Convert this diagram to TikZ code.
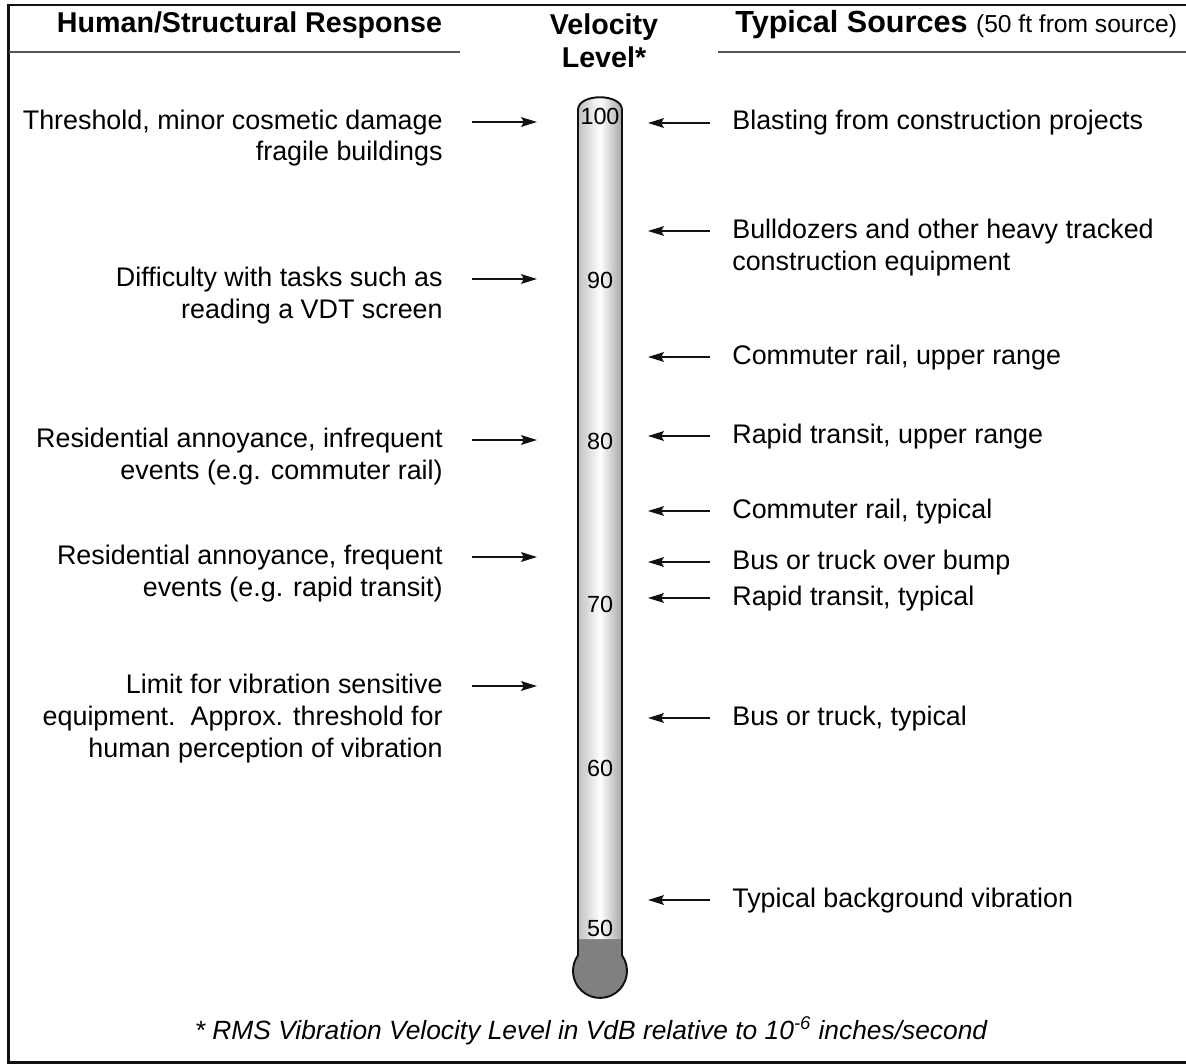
\documentclass[tikz,border=0pt]{standalone}
\usepackage{fontspec}
\setmainfont{Liberation Sans}
\usetikzlibrary{arrows.meta,positioning}
\definecolor{vbink}{HTML}{111111}
\definecolor{vbrule}{HTML}{555555}
\definecolor{vbbulb}{HTML}{808080}

\begin{document}
\begin{tikzpicture}[x=0.02cm,y=0.02cm,
  hdr/.style={font=\bfseries\fontsize{16.3}{19}\selectfont,inner sep=0,anchor=base},
  resp/.style={font=\fontsize{15.3}{18.2}\selectfont,align=right,anchor=base east,inner sep=0},
  src/.style={font=\fontsize{15.3}{18.2}\selectfont,align=left,anchor=base west,inner sep=0},
  tick/.style={font=\fontsize{13.3}{15}\selectfont,anchor=base,inner sep=0},
  arr/.style={-{Stealth[length=9pt,width=5.5pt,inset=1.5pt]},line width=1.1pt,color=vbink},
  rule/.style={line width=1.4pt,color=vbrule}
]
\useasboundingbox (0,0) rectangle (1186,-1064);
% frame
\draw[line width=1.7pt,vbink] (1186,-5) -- (8.5,-5) -- (8.5,-1062.5) -- (1186,-1062.5);

% headings
\node[hdr] (hHuman) at (249.5,-33) {Human/Structural Response};
\node[hdr] (hVel) at (604,-35) {Velocity};
\node[hdr] (hLevel) at (604,-68) {Level*};
\node[hdr,anchor=base west,font=\bfseries\fontsize{17.4}{20}\selectfont] (hSrc) at (735,-33)
  {Typical Sources {\mdseries\fontsize{14}{16}\selectfont (50 ft from source)}};
\draw[rule] (8.5,-52) -- (460,-52);
\draw[rule] (718,-52) -- (1186,-52);

% thermometer
\fill[vbbulb] (578,-939) -- (578,-955.3) arc[start angle=144.6,end angle=395.4,radius=0.54cm] -- (622,-939) -- cycle;
\shade[left color=gray!50,right color=gray!70,middle color=white]
  (578,-939) -- (578,-110) .. controls (578,-93) and (622,-93) .. (622,-110) -- (622,-939) -- cycle;
\draw[line width=1.1pt,vbink] (578,-955.3) -- (578,-110) .. controls (578,-93) and (622,-93) .. (622,-110)
  -- (622,-955.3) arc[start angle=35.4,end angle=-215.4,radius=0.54cm];
\foreach \v/\y in {100/125,90/288,80/449,70/612,60/776,50/936}
  \node[tick] (tk\v) at (600,-\y) {\v};

% human / structural response (base = last line)
\node[resp] (rThr) at (443,-161) {Threshold, minor cosmetic damage\\fragile buildings};
\node[resp] (rVdt) at (443,-318) {Difficulty with tasks such as\\reading a VDT screen};
\node[resp] (rInfreq) at (443,-479) {Residential annoyance, infrequent\\events (e.g. commuter rail)};
\node[resp] (rFreq) at (443,-596) {Residential annoyance, frequent\\events (e.g. rapid transit)};
\node[resp] (rLimit) at (443,-757) {Limit for vibration sensitive\\equipment.\ \ Approx. threshold for\\human perception of vibration};
\foreach \n/\k in {rThr/1,rVdt/1,rInfreq/1,rFreq/1,rLimit/2}
  \draw[arr] ([shift={(29,7+32*\k)}]\n.base east) -- ++(65,0);

% typical sources
\node[src] (sBlast) at (732,-130) {Blasting from construction projects};
\node[src] (sDozer) at (732,-270) {Bulldozers and other heavy tracked\\construction equipment};
\node[src] (sCrUp) at (732,-364) {Commuter rail, upper range};
\node[src] (sRtUp) at (732,-443) {Rapid transit, upper range};
\node[src] (sCrTyp) at (732,-518) {Commuter rail, typical};
\node[src] (sBump) at (732,-569) {Bus or truck over bump};
\node[src] (sRtTyp) at (732,-605) {Rapid transit, typical};
\node[src] (sBus) at (732,-725) {Bus or truck, typical};
\node[src] (sBack) at (732,-907) {Typical background vibration};
\foreach \n/\k in {sBlast/0,sDozer/1,sCrUp/0,sRtUp/0,sCrTyp/0,sBump/0,sRtTyp/0,sBus/0,sBack/0}
  \draw[arr] ([shift={(-22,7+32*\k)}]\n.base west) -- ++(-62,0);

% footnote
\node[font=\itshape\fontsize{15}{18}\selectfont,anchor=base,inner sep=0] (fnote) at (591,-1039)
  {* RMS Vibration Velocity Level in VdB relative to 10\textsuperscript{-6} inches/second};
\end{tikzpicture}
\end{document}
